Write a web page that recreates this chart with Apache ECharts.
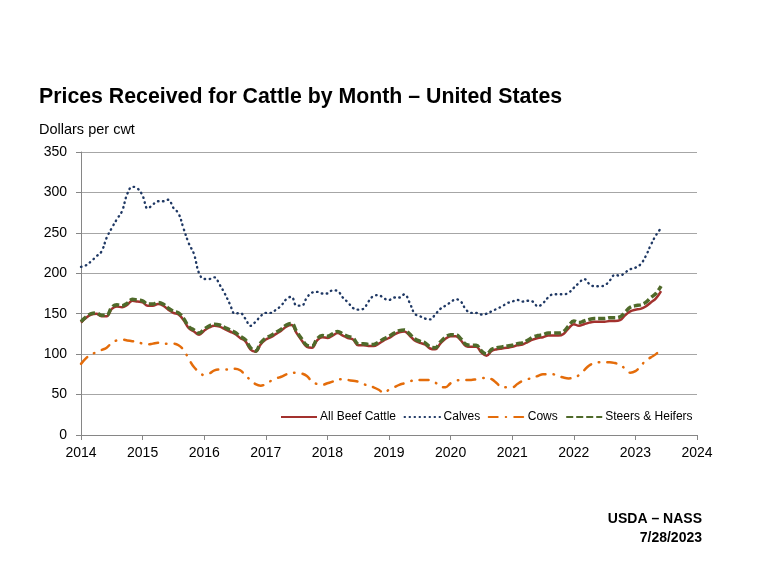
<!DOCTYPE html>
<html>
<head>
<meta charset="utf-8">
<script src="https://cdn.jsdelivr.net/npm/echarts@6/dist/echarts.min.js"></script>
<style>html,body{margin:0;padding:0;background:#fff;}#c{width:760px;height:570px;}</style>
</head>
<body>
<div id="c"></div>
<script>
// Monthly data, January 2014 through June 2023
var startYear = 2014;
var xTicks = [2014, 2015, 2016, 2017, 2018, 2019, 2020, 2021, 2022, 2023, 2024];
var seriesNames = ['All Beef Cattle', 'Calves', 'Cows', 'Steers & Heifers'];

var allBeef = [
  139,145,149,150,147,147,156,159,158,161,166,165,
  164,160,160,162,160,155,151,149,142,132,128,124,
  129,133,135,134,131,128,125,120,116,106,103,112,
  118,121,125,129,134,136,126,117,109,108,117,121,
  120,123,126,123,120,118,111,111,110,110,113,117,
  120,124,127,128,123,117,114,112,107,106,113,119,
  122,122,117,110,109,109,102,98,104,106,107,108,
  109,111,112,115,118,120,121,123,123,123,125,132,
  137,135,137,139,140,140,140,141,141,142,148,153,
  155,156,159,164,169,178
];
var calves = [
  208,210,215,221,227,244,256,267,277,298,307,305,
  296,280,285,289,289,291,281,274,255,237,224,200,
  193,193,195,186,175,162,150,151,144,135,140,147,
  151,151,155,160,168,171,160,160,170,176,177,175,
  175,179,178,170,164,157,155,156,165,172,173,169,
  167,170,170,174,164,150,147,144,143,149,156,160,
  164,168,165,155,151,151,149,150,153,156,159,163,
  165,167,165,166,165,159,163,170,174,174,174,176,
  182,188,193,187,184,184,185,191,198,197,201,205,
  207,211,221,235,247,256
];
var cows = [
  88,95,100,102,105,108,114,117,118,117,116,115,
  113,112,113,114,113,113,113,111,105,94,84,78,
  74,76,80,81,81,81,82,80,74,68,63,61,
  63,67,70,72,75,77,77,76,73,66,63,62,
  64,66,69,69,68,67,66,63,61,59,56,52,
  56,59,62,64,66,68,68,68,68,65,60,59,
  64,67,68,68,68,69,70,71,69,64,59,59,
  59,63,67,69,71,73,75,75,75,73,71,70,
  71,74,80,86,89,90,90,90,89,87,82,77,
  79,85,92,96,100,106
];
var steers = [
  140,146,150,151,148,148,158,161,160,163,168,167,
  166,162,162,164,162,157,153,151,144,134,130,126,
  131,135,137,136,133,130,127,122,118,108,104,114,
  120,123,127,131,136,138,128,119,111,110,119,123,
  122,125,128,125,122,120,113,113,112,112,115,119,
  122,126,129,130,125,119,116,114,109,108,115,121,
  124,124,119,112,111,111,104,100,106,108,109,110,
  111,113,114,117,121,123,124,126,126,126,128,135,
  141,139,141,143,144,144,144,145,145,146,152,158,
  160,161,164,170,175,184
];

function toPoints(arr) {
  return arr.map(function (v, i) { return [startYear + i / 12, v]; });
}

var chart = echarts.init(document.getElementById('c'));
var FONT = '"Liberation Sans", Arial, sans-serif';
chart.setOption({
  animation: false,
  backgroundColor: '#ffffff',
  textStyle: { fontFamily: FONT },
  title: [
    { text: 'Prices Received for Cattle by Month \u2013 United States', left: 39, top: 87, padding: 0,
      textStyle: { fontFamily: FONT, fontSize: 21.3, fontWeight: 'bold', color: '#000' } },
    { text: 'Dollars per cwt', left: 39, top: 122, padding: 0,
      textStyle: { fontFamily: FONT, fontSize: 14.5, fontWeight: 'normal', color: '#000' } }
  ],
  graphic: [
    { type: 'text', x: 702, y: 512,
      style: { text: 'USDA \u2013 NASS', fill: '#000', font: 'bold 14px "Liberation Sans", Arial, sans-serif', textAlign: 'right', textVerticalAlign: 'top' } },
    { type: 'text', x: 702, y: 531,
      style: { text: '7/28/2023', fill: '#000', font: 'bold 14px "Liberation Sans", Arial, sans-serif', textAlign: 'right', textVerticalAlign: 'top' } }
  ],
  legend: {
    left: 280, top: 411, padding: 0,
    itemWidth: 36, itemHeight: 8, itemGap: 7.5,
    itemStyle: { opacity: 0 },
    textStyle: { fontFamily: FONT, fontSize: 12, color: '#000', padding: [0, 0, 0, -2] },
    data: seriesNames
  },
  grid: { left: 81, right: 63, top: 152, bottom: 135, containLabel: false },
  xAxis: {
    type: 'value', min: 2014, max: 2024, interval: 1,
    axisLine: { show: true, onZero: false, lineStyle: { color: '#868686', width: 1 } },
    axisTick: { show: true, length: 5, lineStyle: { color: '#868686' } },
    axisLabel: { color: '#000', fontSize: 14, fontFamily: FONT, margin: 11,
      formatter: function (v) { return xTicks.indexOf(v) >= 0 ? String(v) : ''; } },
    splitLine: { show: false }
  },
  yAxis: {
    type: 'value', min: 0, max: 350, interval: 50,
    axisLine: { show: true, lineStyle: { color: '#868686', width: 1 } },
    axisTick: { show: true, length: 5, lineStyle: { color: '#868686' } },
    axisLabel: { color: '#000', fontSize: 14, fontFamily: FONT, margin: 14 },
    splitLine: { show: true, lineStyle: { color: '#a6a6a6', width: 1 } }
  },
  series: [
    { name: seriesNames[0], type: 'line', data: toPoints(allBeef), symbol: 'none', smooth: 0.4,
      color: '#A3312E', lineStyle: { color: '#A3312E', width: 2.5, type: 'solid' } },
    { name: seriesNames[1], type: 'line', data: toPoints(calves), symbol: 'none', smooth: 0.4,
      color: '#1F3864', lineStyle: { color: '#1F3864', width: 2.4, type: [0.5, 4.5], cap: 'round' } },
    { name: seriesNames[2], type: 'line', data: toPoints(cows), symbol: 'none', smooth: 0.4,
      color: '#E46C0A', lineStyle: { color: '#E46C0A', width: 2.5, type: [9, 8, 0.5, 8], cap: 'round' } },
    { name: seriesNames[3], type: 'line', data: toPoints(steers), symbol: 'none', smooth: 0.4,
      color: '#4F6A2A', lineStyle: { color: '#4F6A2A', width: 3.5, type: [7, 3] } }
  ]
});
</script>
</body>
</html>
